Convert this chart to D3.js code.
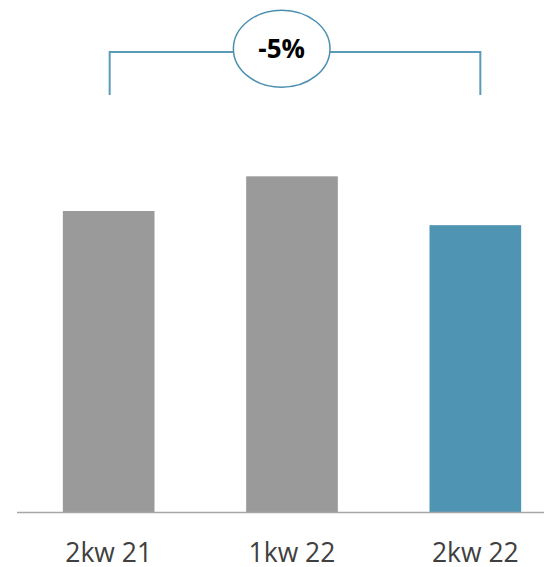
<!DOCTYPE html>
<html>
<head>
<meta charset="utf-8">
<script src="https://cdn.jsdelivr.net/npm/d3@7"></script>
<style>
  body { margin: 0; background: #fff; }
</style>
</head>
<body>
<div id="container"></div>
<script>
/* CONSTANTS AND GLOBALS */
const width = 544,
  height = 567;

// data
const categories = ["2kw 21", "1kw 22", "2kw 22"];
const values = [100, 111.5, 95.3];
const barColors = ["#9a9a9a", "#9a9a9a", "#4f94b2"];

const svg = d3.select("#container")
  .append("svg")
  .attr("width", width)
  .attr("height", height);

// x scale - bands
const xScale = d3.scaleBand()
  .domain(categories)
  .range([17, 567])
  .paddingInner(0.5)
  .paddingOuter(0.25);

// y scale - linear
const yScale = d3.scaleLinear()
  .domain([0, 100])
  .range([512.5, 211]);

// bars
svg.selectAll(".bar")
  .data(categories)
  .join("rect")
  .attr("class", "bar")
  .attr("x", d => xScale(d))
  .attr("y", (d, i) => yScale(values[i]))
  .attr("width", xScale.bandwidth())
  .attr("height", (d, i) => yScale(0) - yScale(values[i]))
  .attr("fill", (d, i) => barColors[i]);

// x axis line
svg.append("line")
  .attr("x1", 17)
  .attr("x2", width)
  .attr("y1", yScale(0))
  .attr("y2", yScale(0))
  .attr("stroke", "#a6a6a6")
  .attr("stroke-width", 1.5);

// category labels
svg.selectAll(".label")
  .data(categories)
  .join("text")
  .attr("class", "label")
  .attr("x", d => xScale(d) + xScale.bandwidth() / 2)
  .attr("y", 562)
  .attr("text-anchor", "middle")
  .attr("font-family", "'Open Sans', sans-serif")
  .attr("font-size", 26.5)
  .attr("fill", "#404040")
  .text(d => d);

// bracket between first and last bar
const first = categories[0], last = categories[categories.length - 1];
const xa = xScale(first) + xScale.bandwidth() / 2 + 1;
const xb = xScale(last) + xScale.bandwidth() / 2 + 5;
const yTop = 52, yBot = 95;
svg.append("path")
  .attr("d", `M${xa},${yBot}V${yTop}H${xb}V${yBot}`)
  .attr("fill", "none")
  .attr("stroke", "#5b9bb8")
  .attr("stroke-width", 2);

// ellipse with change label
svg.append("ellipse")
  .attr("cx", 281.7)
  .attr("cy", 48.7)
  .attr("rx", 48.3)
  .attr("ry", 38.5)
  .attr("fill", "#fff")
  .attr("stroke", "#4a8fb0")
  .attr("stroke-width", 1.5);

const change = values[values.length - 1] / values[0] - 1;
svg.append("text")
  .attr("x", 281.7)
  .attr("y", 58)
  .attr("text-anchor", "middle")
  .attr("font-family", "'Open Sans', sans-serif")
  .attr("font-weight", "bold")
  .attr("font-size", 26)
  .attr("fill", "#000")
  .text(d3.format(".0%")(change).replace("−", "-"));
</script>
</body>
</html>
